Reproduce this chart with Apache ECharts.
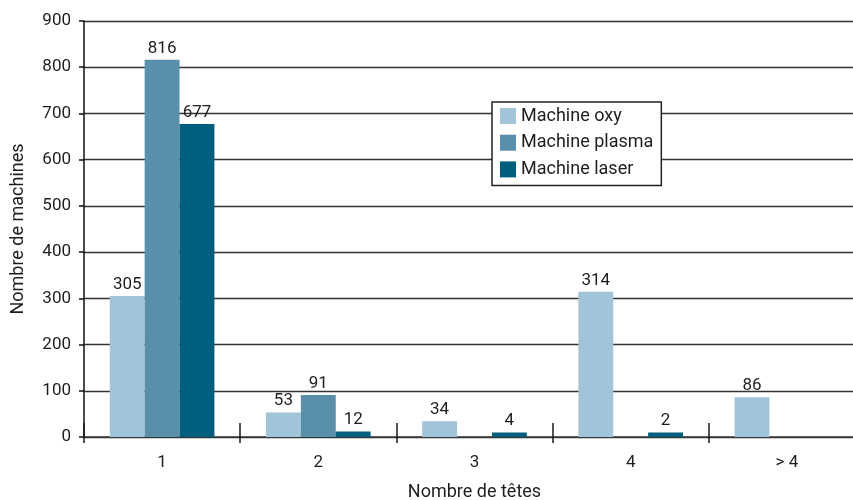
<!DOCTYPE html>
<html><head><meta charset="utf-8">
<script src="https://cdn.jsdelivr.net/npm/echarts@6/dist/echarts.min.js"></script>
<style>html,body{margin:0;padding:0;background:#fff;overflow:hidden}#c{width:865px;height:500px}</style>
</head><body><div id="c"></div>
<script>
const categories = ['1', '2', '3', '4', '> 4'];
const oxy = [305, 53, 34, 314, 86];
const plasma = [816, 91, '-', '-', '-'];
const laser = [677, 12, 4, 2, '-'];
const yTicks = [0, 100, 200, 300, 400, 500, 600, 700, 800, 900];

const font = 'Roboto, "Liberation Sans", sans-serif';
const txt = '#1e1e1e';
const lbl = {show: true, position: 'top', color: txt, fontSize: 17, fontFamily: font, distance: 3};
function s(name, data, color) {
  return {name, type: 'bar', data, barGap: '0%', barCategoryGap: '33%', barMinHeight: 4.5,
    itemStyle: {color}, label: lbl, xAxisIndex: 0};
}
const chart = echarts.init(document.getElementById('c'));
chart.setOption({
  animation: false,
  grid: {left: 84, right: 0, top: 21, bottom: 63, containLabel: false, outerBoundsMode: 'none'},
  legend: {
    orient: 'vertical', left: 492, top: 102, itemWidth: 16, itemHeight: 16, itemGap: 8.7,
    itemStyle: {borderWidth: 0},
    padding: [5, 8, 7, 8], borderColor: '#222', borderWidth: 1.5, backgroundColor: '#fff',
    icon: 'rect', textStyle: {fontSize: 18, lineHeight: 16, color: txt, fontFamily: font},
    data: ['Machine oxy', 'Machine plasma', 'Machine laser']
  },
  xAxis: [{
    type: 'category', data: categories,
    name: 'Nombre de têtes', nameLocation: 'middle', nameGap: 46,
    nameTextStyle: {fontSize: 18, color: txt, fontFamily: font},
    axisLine: {lineStyle: {color: '#3a3a3a', width: 1.5}},
    axisTick: {show: true, inside: true, length: 14, lineStyle: {color: '#1a1a1a', width: 1.5}},
    axisLabel: {fontSize: 17, color: txt, fontFamily: font, margin: 17}
  }, {
    type: 'category', data: categories, position: 'bottom',
    axisLine: {show: false},
    axisTick: {show: true, inside: false, length: 6, lineStyle: {color: '#1a1a1a', width: 1.5}},
    axisLabel: {show: false}
  }],
  yAxis: {
    type: 'value', min: yTicks[0], max: yTicks[yTicks.length - 1], interval: 100,
    name: 'Nombre de machines', nameLocation: 'middle', nameGap: 57,
    nameTextStyle: {fontSize: 18, color: txt, fontFamily: font},
    axisLine: {show: true, lineStyle: {color: '#111', width: 1.5}},
    axisTick: {show: true, length: 5, lineStyle: {color: '#111', width: 1.5}},
    axisLabel: {fontSize: 17, color: txt, fontFamily: font, margin: 13},
    splitLine: {lineStyle: {color: '#333', width: 1.3}}
  },
  series: [
    s('Machine oxy', oxy, '#a2c4d8'),
    s('Machine plasma', plasma, '#5a8fab'),
    s('Machine laser', laser, '#005f7e')
  ]
});
</script></body></html>
